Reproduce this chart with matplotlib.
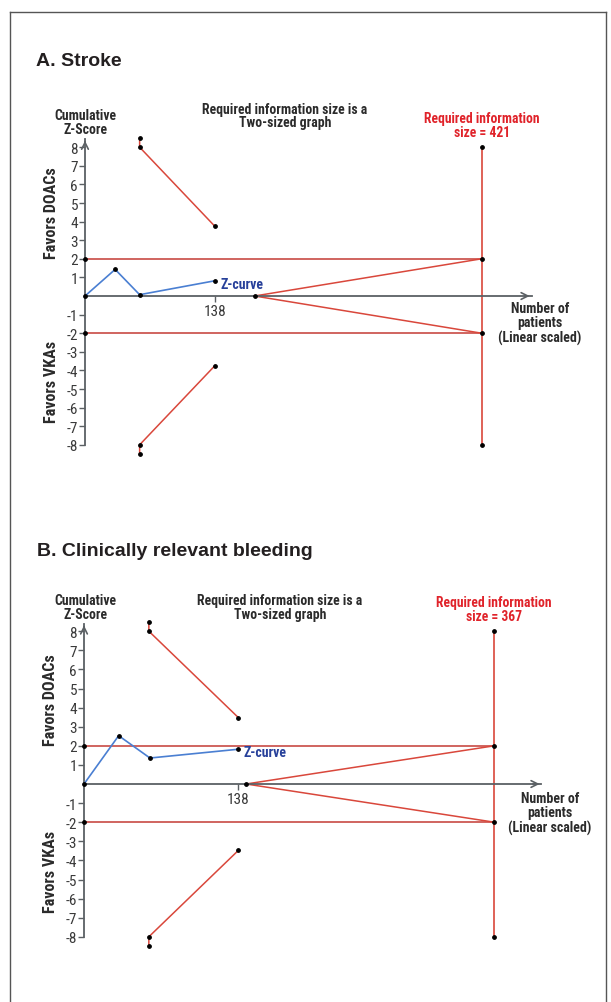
"""Trial sequential analysis plots: stroke and clinically relevant bleeding."""
import matplotlib.pyplot as plt

W, H = 611, 1003

# Panel A: stroke
stroke_ris = 421
stroke_z_n = [0, 32, 58, 138]
stroke_z = [0, 1.43, 0.07, 0.82]
stroke_bound_n = [58, 58, 138]
stroke_bound_z = [8.5, 8.0, 3.74]
stroke_futility_n = 180

# Panel B: clinically relevant bleeding
bleed_ris = 367
bleed_z_n = [0, 31, 59, 138]
bleed_z = [0, 2.53, 1.36, 1.82]
bleed_bound_n = [58, 58, 138]
bleed_bound_z = [8.5, 8.0, 3.48]
bleed_futility_n = 145

conv_z = 2
y_ticks = [-8, -7, -6, -5, -4, -3, -2, -1, 1, 2, 3, 4, 5, 6, 7, 8]
tick_n = 138

NARROW = ["Roboto Condensed", "Open Sans Condensed", "Liberation Sans Narrow",
          "Liberation Sans", "DejaVu Sans"]
RED = "#d9473b"
RED_TXT = "#e0232a"
BLUE = "#4a7fd2"
BLUE_TXT = "#27409a"
AXIS = "#5b6064"
DARK = "#2b2b2b"


def make_axes(fig, origin, sx, sy, xlim, ylim):
    """Place axes so that data (0, 0) lands on the given pixel origin."""
    ox, oy = origin
    left = ox + xlim[0] * sx
    right = ox + xlim[1] * sx
    top = oy - ylim[1] * sy
    bottom = oy - ylim[0] * sy
    ax = fig.add_axes([left / W, 1 - bottom / H, (right - left) / W, (bottom - top) / H])
    ax.set_xlim(*xlim)
    ax.set_ylim(*ylim)
    ax.patch.set_alpha(0)
    return ax


def draw_panel(ax, ris, z_n, z, bound_n, bound_z, fut_n, x_end, y_end):
    for s in ["top", "right"]:
        ax.spines[s].set_visible(False)
    ax.spines["left"].set_position(("data", 0))
    ax.spines["bottom"].set_position(("data", 0))
    ax.spines["left"].set_bounds(-8, y_end)
    ax.spines["bottom"].set_bounds(0, x_end)
    for s in ["left", "bottom"]:
        ax.spines[s].set_color(AXIS)
        ax.spines[s].set_linewidth(1.3)

    # arrow heads
    ax.annotate("", xy=(x_end + 1, 0), xytext=(x_end - 10, 0),
                arrowprops=dict(arrowstyle="->", color=AXIS, lw=1.2,
                                mutation_scale=12))
    ax.annotate("", xy=(0, y_end + 0.05), xytext=(0, y_end - 0.4),
                arrowprops=dict(arrowstyle="->", color=AXIS, lw=1.2,
                                mutation_scale=12))

    ax.set_yticks(y_ticks)
    ax.set_yticklabels([str(t) for t in y_ticks], family=NARROW,
                       fontsize=11, color="#3a3a3a")
    ax.set_xticks([tick_n])
    ax.set_xticklabels([str(tick_n)], family=NARROW, fontsize=11,
                       color="#3a3a3a")
    ax.tick_params(axis="y", direction="out", length=4, width=1, color=AXIS, pad=1)
    ax.tick_params(axis="x", direction="out", length=4, width=1, color=AXIS, pad=2)

    # conventional boundaries and required information size
    ax.plot([0, ris], [conv_z, conv_z], color="#c84a44", lw=1.2, zorder=2)
    ax.plot([0, ris], [-conv_z, -conv_z], color="#c84a44", lw=1.2, zorder=2)
    ax.plot([ris, ris], [-8, 8], color=RED, lw=1.2, zorder=2)
    ax.plot([fut_n, ris], [0, conv_z], color=RED, lw=1.1, zorder=2)
    ax.plot([fut_n, ris], [0, -conv_z], color=RED, lw=1.1, zorder=2)

    # monitoring boundaries
    ax.plot(bound_n, bound_z, color=RED, lw=1.1, zorder=2)
    ax.plot(bound_n, [-v for v in bound_z], color=RED, lw=1.1, zorder=2)

    # Z-curve
    ax.plot(z_n, z, color=BLUE, lw=1.2, zorder=3)

    dots_x = (list(z_n) + list(bound_n) + list(bound_n)
              + [0, 0, ris, ris, ris, ris, fut_n])
    dots_y = (list(z) + list(bound_z) + [-v for v in bound_z]
              + [conv_z, -conv_z, conv_z, -conv_z, 8, -8, 0])
    ax.scatter(dots_x, dots_y, s=6, color="black", zorder=4, clip_on=False)

    ax.annotate("Z-curve", xy=(z_n[-1], z[-1]), xytext=(4, -2),
                textcoords="offset points", ha="left", va="center",
                family=NARROW, fontweight="bold", fontsize=10, color=BLUE_TXT)
    ax.annotate(f"Required information\nsize = {ris}", xy=(ris, 8),
                xytext=(0, 6), textcoords="offset points", ha="center",
                va="bottom", family=NARROW, fontweight="bold", fontsize=9.8,
                color=RED_TXT, linespacing=1.0)


def fig_text(x, y, s, **kw):
    kw.setdefault("family", NARROW)
    kw.setdefault("fontweight", "bold")
    kw.setdefault("color", DARK)
    kw.setdefault("ha", "center")
    kw.setdefault("va", "center")
    fig.text(x / W, 1 - y / H, s, **kw)


fig = plt.figure(figsize=(W / 100, H / 100), dpi=100)

# border
fig.add_artist(plt.Line2D([10 / W, 10 / W], [0, 1 - 13 / H], color="#555555", lw=1.0))
fig.add_artist(plt.Line2D([10 / W, 606 / W], [1 - 13 / H, 1 - 13 / H], color="#555555", lw=1.0))
fig.add_artist(plt.Line2D([606 / W, 606 / W], [0, 1 - 13 / H], color="#555555", lw=1.0))

# panel A
ax_a = make_axes(fig, (85, 297), 0.942, 18.6, (-60, 520), (-10, 10.5))
draw_panel(ax_a, stroke_ris, stroke_z_n, stroke_z, stroke_bound_n,
           stroke_bound_z, stroke_futility_n, 474, 8.45)

fig_text(36, 62, "A. Stroke", family=["Liberation Sans", "DejaVu Sans"],
         fontsize=14, ha="left", color="#231f20")
fig_text(85, 123, "Cumulative\nZ-Score", fontsize=9.9, linespacing=1.05)
fig_text(285, 116.5, "Required information size is a\nTwo-sized graph",
         fontsize=9.9, linespacing=0.92)
fig_text(540, 324, "Number of\npatients\n(Linear scaled)", fontsize=10,
         linespacing=1.0)
fig_text(51, 213, "Favors DOACs", fontsize=11.6, rotation=90)
fig_text(51, 382, "Favors VKAs", fontsize=11.6, rotation=90)

# panel B
ax_b = make_axes(fig, (84, 785), 1.118, 19.1, (-50, 450), (-10, 10.5))
draw_panel(ax_b, bleed_ris, bleed_z_n, bleed_z, bleed_bound_n,
           bleed_bound_z, bleed_futility_n, 409, 8.4)

fig_text(37, 552, "B. Clinically relevant bleeding",
         family=["Liberation Sans", "DejaVu Sans"], fontsize=14, ha="left",
         color="#231f20")
fig_text(85, 608, "Cumulative\nZ-Score", fontsize=9.9, linespacing=1.05)
fig_text(280, 608, "Required information size is a\nTwo-sized graph",
         fontsize=9.9, linespacing=0.92)
fig_text(550, 814, "Number of\npatients\n(Linear scaled)", fontsize=10,
         linespacing=1.0)
fig_text(50, 700, "Favors DOACs", fontsize=11.6, rotation=90)
fig_text(50, 872, "Favors VKAs", fontsize=11.6, rotation=90)

fig.savefig("out.png", dpi=100)
